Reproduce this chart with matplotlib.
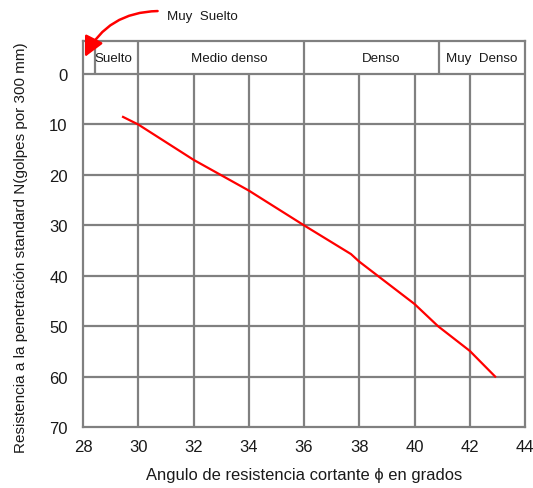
import matplotlib
matplotlib.use("Agg")
import matplotlib.pyplot as plt

# ---- data ----
phi = [29.45, 30.0, 32.0, 34.0, 36.0, 37.7, 38.0, 40.0, 40.85, 42.0, 42.92]
N = [8.5, 10.0, 17.0, 23.1, 30.0, 35.7, 37.2, 45.6, 50.0, 54.9, 60.0]
x_ticks = [28, 30, 32, 34, 36, 38, 40, 42, 44]
y_ticks = [0, 10, 20, 30, 40, 50, 60, 70]
band_edges = [28.45, 30.0, 36.0, 40.9]
band_names = ["Suelto", "Medio denso", "Denso", "Muy  Denso"]
band_label_x = [29.1, 33.28, 38.8, 42.45]
arrow_label = "Muy  Suelto"

plt.rcParams['font.family'] = ['Liberation Sans', 'DejaVu Sans']

W, H = 533, 489
fig = plt.figure(figsize=(W / 100, H / 100), dpi=100)
left, right, top, bottom = 83, 525, 42.3, 428
ax = fig.add_axes([left / W, 1 - bottom / H, (right - left) / W, (bottom - top) / H])

xmin, xmax = 28, 44
ymin_top, ymax = -6.5, 70
ax.set_xlim(xmin, xmax)
ax.set_ylim(ymax, ymin_top)

grey = '#808080'
txt = '#1a1a1a'
for s in ax.spines.values():
    s.set_color(grey)
    s.set_linewidth(1.6)

# grid (only in data region below band)
ax.vlines(x_ticks[1:-1], 0, ymax, color=grey, lw=1.6, zorder=1)
ax.hlines(y_ticks[:-1], xmin, xmax, color=grey, lw=1.6, zorder=1)
# band dividers
ax.vlines(band_edges, ymin_top, 0, color=grey, lw=1.6, zorder=1)
for name, bx in zip(band_names, band_label_x):
    ax.text(bx, -3.1, name, ha='center', va='center', fontsize=9.6, color=txt)

ax.plot(phi, N, color='#ff0000', lw=1.6, zorder=3)

ax.set_xticks(x_ticks)
ax.set_yticks(y_ticks)
ax.tick_params(axis='both', length=0, labelsize=12, colors=txt)
ax.tick_params(axis='x', pad=9)
ax.tick_params(axis='y', pad=11)

ax.set_xlabel("Angulo de resistencia cortante ϕ en grados", fontsize=11.9, color=txt, va='center')
ax.xaxis.set_label_coords(0.5, -0.124)
ax.set_ylabel("Resistencia a la penetración standard N(golpes por 300 mm)", fontsize=11.0,
              color=txt, va='center')
ax.yaxis.set_label_coords(-0.14, 0.468)

# "Muy Suelto" annotation with curved arrow
ax.text(31.05, -11.5, arrow_label, ha='left', va='center', fontsize=9.6, color=txt, clip_on=False)
ax.annotate('', xy=(28.07, -3.4), xytext=(30.7, -12.5), xycoords='data', textcoords='data',
            annotation_clip=False,
            arrowprops=dict(arrowstyle='-|>,head_length=1.0,head_width=0.5', color='#ff0000',
                            lw=1.8, connectionstyle='arc3,rad=0.3', shrinkA=0, shrinkB=0,
                            mutation_scale=12))

fig.savefig('out.png', dpi=100)
